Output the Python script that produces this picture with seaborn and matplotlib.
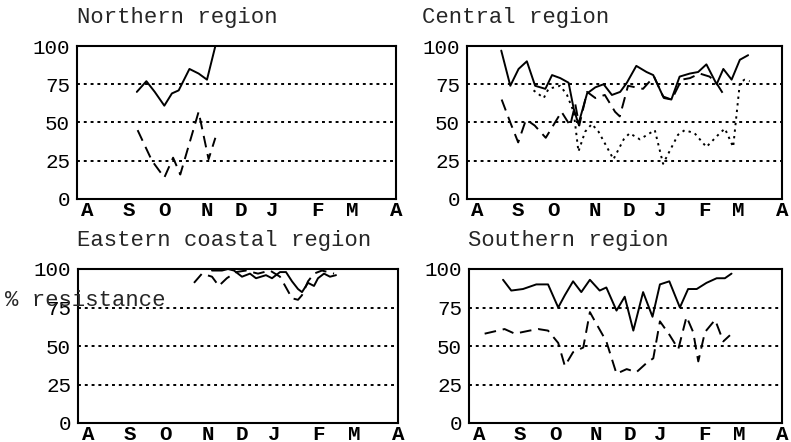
import matplotlib
matplotlib.use("Agg")
import matplotlib.pyplot as plt
import seaborn as sns
import pandas as pd

# month axis, August to April (x in months since 1 August)
month_labels = ["A", "S", "O", "N", "D", "J", "F", "M", "A"]
month_ticks = [0.25, 1.3, 2.2, 3.25, 4.1, 4.9, 6.02, 6.9, 8.0]
pct_ticks = [0, 25, 50, 75, 100]

# Northern region
north_solid_x = [1.50, 1.74, 1.95, 2.19, 2.38, 2.55, 2.82, 3.05, 3.26, 3.47]
north_solid_y = [70, 77, 70, 61, 69, 71, 85, 82, 78, 100]
north_dash_x = [1.52, 1.88, 2.19, 2.41, 2.59, 3.05, 3.30, 3.47]
north_dash_y = [45, 25, 14, 27, 16, 57, 26, 40]

# Central region
central_solid_x = [0.87, 1.10, 1.31, 1.52, 1.73, 1.99, 2.16, 2.37, 2.58, 2.71, 2.83,
                   3.05, 3.26, 3.47, 3.68, 3.89, 4.06, 4.30, 4.56, 4.73, 4.98, 5.19,
                   5.40, 5.66, 5.87, 6.08, 6.34, 6.51, 6.72, 6.93, 7.14]
central_solid_y = [97, 74, 85, 90, 74, 72, 81, 79, 76, 59, 49,
                   69, 73, 75, 68, 70, 76, 87, 83, 81, 67, 65,
                   80, 82, 83, 88, 75, 85, 78, 91, 94]
central_dash_x = [0.88, 1.10, 1.30, 1.50, 1.72, 2.00, 2.40, 2.62, 2.75, 2.85, 3.05,
                  3.26, 3.50, 3.76, 3.88, 4.09, 4.47, 4.75, 5.00, 5.20, 5.45, 5.66,
                  5.91, 6.16, 6.33, 6.50]
central_dash_y = [65, 50, 37, 52, 48, 40, 57, 48, 62, 48, 70,
                  66, 68, 57, 54, 74, 72, 80, 66, 65, 78, 79,
                  82, 80, 76, 69]
central_dot_x = [1.69, 1.95, 2.07, 2.37, 2.54, 2.71, 2.83, 3.00, 3.17, 3.34, 3.72,
                 3.98, 4.13, 4.39, 4.77, 4.98, 5.36, 5.53, 5.78, 6.08, 6.42, 6.55,
                 6.76, 6.93, 7.05, 7.18]
central_dot_y = [71, 66, 72, 74, 68, 57, 31, 44, 49, 44, 26,
                 39, 43, 39, 45, 23, 42, 45, 43, 34, 43, 46,
                 34, 76, 78, 77]

# Eastern coastal region
east_solid_x = [3.35, 3.60, 3.75, 3.90, 4.10, 4.30, 4.45, 4.70, 4.85, 5.05, 5.20,
                5.35, 5.50, 5.60, 5.75, 5.90, 6.00, 6.15, 6.30, 6.45]
east_solid_y = [99, 99, 100, 99, 95, 97, 94, 96, 94, 98, 98,
                92, 87, 85, 91, 89, 94, 97, 95, 96]
east_dash_x = [2.90, 3.10, 3.35, 3.52, 3.72, 3.95, 4.20, 4.50, 4.80, 5.05, 5.20,
               5.35, 5.50, 5.60, 5.75, 5.90, 6.10, 6.40]
east_dash_y = [91, 97, 95, 89, 94, 98, 99, 97, 99, 95, 88,
               81, 80, 83, 92, 97, 99, 97]

# Southern region
south_solid_x = [0.87, 1.08, 1.38, 1.72, 2.02, 2.28, 2.45, 2.66, 2.87, 3.09, 3.34,
                 3.51, 3.77, 3.98, 4.20, 4.45, 4.69, 4.88, 5.12, 5.39, 5.60, 5.82,
                 6.07, 6.33, 6.54, 6.71]
south_solid_y = [93, 86, 87, 90, 90, 75, 83, 92, 85, 93, 86,
                 88, 73, 82, 60, 85, 69, 90, 92, 75, 87, 87,
                 91, 94, 94, 97]
south_dash_x = [0.40, 0.91, 1.17, 1.55, 1.77, 2.02, 2.28, 2.45, 2.66, 2.92, 3.09,
                3.22, 3.51, 3.77, 4.03, 4.28, 4.54, 4.71, 4.88, 5.13, 5.35, 5.56,
                5.73, 5.86, 6.03, 6.29, 6.50, 6.67]
south_dash_y = [58, 61, 58, 60, 61, 60, 52, 37, 46, 49, 72,
                66, 53, 32, 35, 33, 39, 42, 66, 57, 48, 69,
                59, 40, 59, 67, 53, 57]

SOLID = "-"
DASH = (0, (6, 3.5))
DOT = (0, (1.2, 2.2))

panels = [
    ("Northern region", [77, 46, 396, 199], 77,
     [(north_solid_x, north_solid_y, SOLID), (north_dash_x, north_dash_y, DASH)]),
    ("Central region", [467, 46, 782, 199], 422,
     [(central_solid_x, central_solid_y, SOLID), (central_dash_x, central_dash_y, DASH),
      (central_dot_x, central_dot_y, DOT)]),
    ("Eastern coastal region", [78, 269, 398, 423], 77,
     [(east_solid_x, east_solid_y, SOLID), (east_dash_x, east_dash_y, DASH)]),
    ("Southern region", [469, 269, 782, 423], 468,
     [(south_solid_x, south_solid_y, SOLID), (south_dash_x, south_dash_y, DASH)]),
]

sns.set_style("white")
plt.rcParams["font.family"] = ["Liberation Mono", "DejaVu Sans Mono"]

W, H = 791, 442
fig = plt.figure(figsize=(W / 100, H / 100), dpi=100)

for title, (x0, y0, x1, y1), title_x, series in panels:
    ax = fig.add_axes([x0 / W, 1 - y1 / H, (x1 - x0) / W, (y1 - y0) / H])
    for xs, ys, ls in series:
        df = pd.DataFrame({"month": xs, "pct": ys})
        sns.lineplot(data=df, x="month", y="pct", ax=ax, color="black",
                     linewidth=1.4, linestyle=ls, estimator=None, sort=False)
    ax.set_xlim(0, 8)
    ax.set_ylim(0, 100)
    ax.set_xticks(month_ticks)
    ax.set_xticklabels(month_labels, fontweight="bold")
    ax.set_yticks(pct_ticks)
    ax.set_xlabel("")
    ax.set_ylabel("")
    ax.tick_params(length=0, labelsize=15, colors="black")
    ax.tick_params(axis="y", pad=5)
    ax.tick_params(axis="x", pad=1.5)
    ax.grid(axis="y", color="black", linestyle=(0, (1.5, 2)), linewidth=1.4)
    for sp in ax.spines.values():
        sp.set_color("black")
        sp.set_linewidth(1.5)
    fig.text(title_x / W, 1 - (y0 - 28) / H, title, fontsize=16, ha="left", va="center")

fig.text(5 / W, 1 - 300 / H, "% resistance", fontsize=16, ha="left", va="center")

fig.savefig("out.png", dpi=100)
